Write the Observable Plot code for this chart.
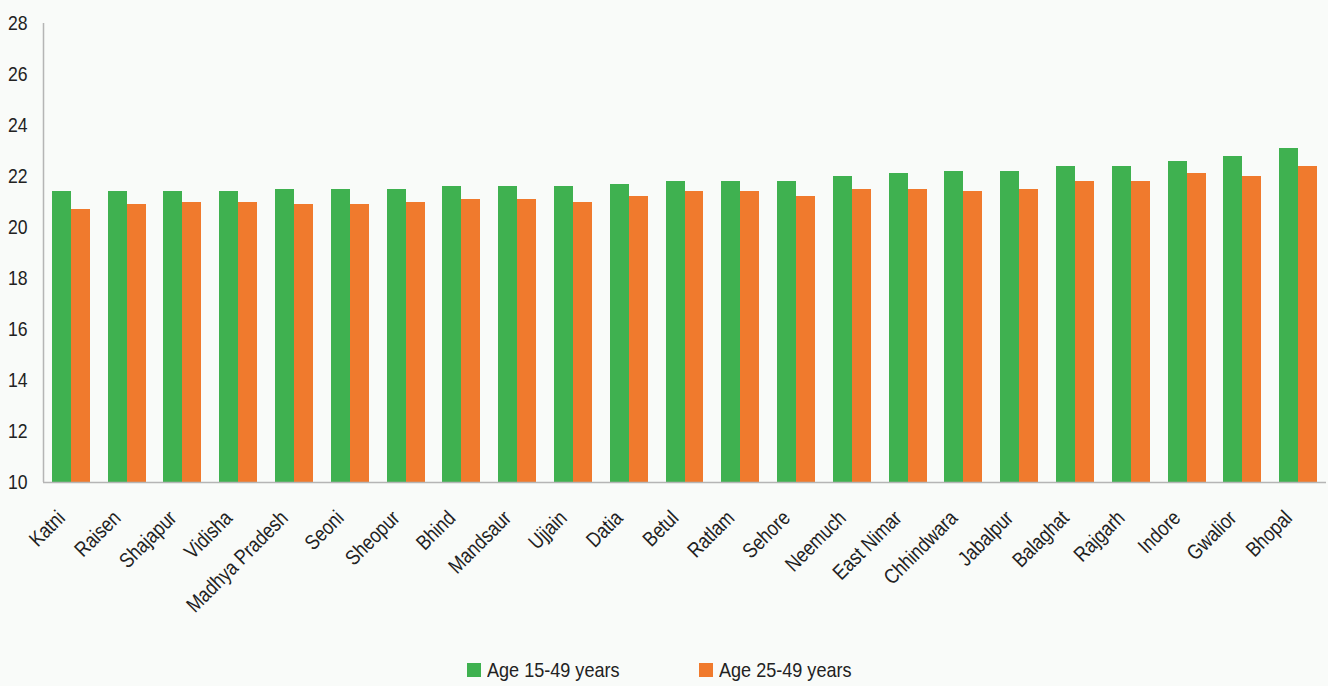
<!DOCTYPE html>
<html>
<head>
<meta charset="utf-8">
<script src="https://cdn.jsdelivr.net/npm/d3@7"></script>
<script src="https://cdn.jsdelivr.net/npm/@observablehq/plot@0.6"></script>
<style>
  html, body { margin: 0; padding: 0; background: #f9fbf9; }
  body { width: 1328px; height: 686px; overflow: hidden; position: relative; font-family: "Liberation Sans", Arial, sans-serif; }
  #legend { position: absolute; left: 0; top: 645px; width: 1328px; height: 41px; font-size: 21px; color: #222; }
  .item { position: absolute; top: 0; height: 41px; display: flex; align-items: center; padding-top: 9px; box-sizing: border-box; }
  .sw { width: 14px; height: 14px; margin-right: 6px; flex: none; }
  .tx { display: inline-block; transform: scaleX(0.86); transform-origin: left center; white-space: nowrap; }
</style>
</head>
<body>
<div id="chart"></div>
<div id="legend"></div>
<script>
const districts = ["Katni","Raisen","Shajapur","Vidisha","Madhya Pradesh","Seoni","Sheopur","Bhind","Mandsaur","Ujjain","Datia","Betul","Ratlam","Sehore","Neemuch","East Nimar","Chhindwara","Jabalpur","Balaghat","Rajgarh","Indore","Gwalior","Bhopal"];
const age15_49 = [21.4,21.4,21.4,21.4,21.5,21.5,21.5,21.6,21.6,21.6,21.7,21.8,21.8,21.8,22.0,22.1,22.2,22.2,22.4,22.4,22.6,22.8,23.1];
const age25_49 = [20.7,20.9,21.0,21.0,20.9,20.9,21.0,21.1,21.1,21.0,21.2,21.4,21.4,21.2,21.5,21.5,21.4,21.5,21.8,21.8,22.1,22.0,22.4];
const seriesNames = ["Age 15-49 years","Age 25-49 years"];
const seriesColors = ["#3fb150","#f07a2d"];
const yTicks = [10,12,14,16,18,20,22,24,26,28];
const yMin = 10, yMax = 28;

const W = 1328, H = 645, mL = 43, mR = 2, mT = 23, mB = 163;
const pInner = 0.32, pOuter = 0.16;
const step = (W - mL - mR) / (districts.length - pInner + 2 * pOuter);
const bw = step * (1 - pInner);

const data = districts.map((d, i) => ({district: d, a: age15_49[i], b: age25_49[i]}));

const chart = Plot.plot({
  width: W, height: H,
  marginLeft: mL, marginRight: mR, marginTop: mT, marginBottom: mB,
  style: {background: "transparent", fontFamily: "'Liberation Sans',Arial,sans-serif", color: "#222"},
  x: {domain: districts, paddingInner: pInner, paddingOuter: pOuter, round: false, label: null},
  y: {domain: [yMin, yMax], label: null},
  marks: [
    Plot.barY(data, {x: "district", y1: () => yMin, y2: "a", fill: seriesColors[0], insetRight: bw / 2, shapeRendering: "crispEdges"}),
    Plot.barY(data, {x: "district", y1: () => yMin, y2: "b", fill: seriesColors[1], insetLeft: bw / 2, shapeRendering: "crispEdges"}),
    Plot.ruleY([yMin], {stroke: "#b5b5b5", strokeWidth: 1.5}),
    Plot.ruleX([districts[0]], {dx: -step / 2, y1: yMin, y2: yMax, stroke: "#b5b5b5", strokeWidth: 1.5}),
    Plot.axisY({ticks: yTicks, tickSize: 0, tickPadding: 16, fontSize: 21, label: null}),
    Plot.axisX({tickSize: 0, tickRotate: -45, fontSize: 21, tickPadding: 32, dx: -10, label: null})
  ]
});
document.getElementById("chart").appendChild(chart);

// condense axis text to mimic the narrow typeface of the original
chart.querySelectorAll("text").forEach(t => {
  const len = t.getComputedTextLength();
  if (len > 0) {
    t.setAttribute("textLength", (len * 0.84).toFixed(1));
    t.setAttribute("lengthAdjust", "spacingAndGlyphs");
  }
});

const legend = document.getElementById("legend");
const legendLeft = [467, 699];
seriesNames.forEach((name, i) => {
  const it = document.createElement("div");
  it.className = "item";
  it.style.left = legendLeft[i] + "px";
  const sw = document.createElement("div");
  sw.className = "sw";
  sw.style.background = seriesColors[i];
  const tx = document.createElement("span");
  tx.className = "tx";
  tx.textContent = name;
  it.appendChild(sw); it.appendChild(tx);
  legend.appendChild(it);
});
</script>
</body>
</html>
